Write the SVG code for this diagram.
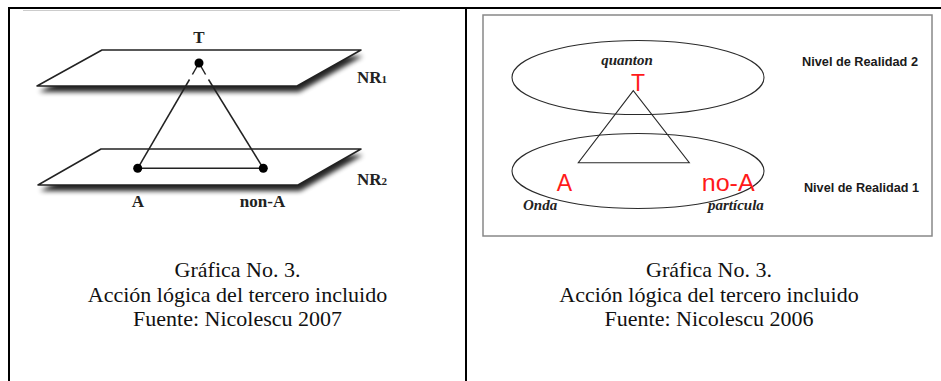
<svg xmlns="http://www.w3.org/2000/svg" width="941" height="381" viewBox="0 0 941 381">
<style>
.cap{font-family:"Liberation Serif","Times New Roman",serif;font-size:22px;fill:#111;text-anchor:middle}
.lbl{font-family:"Liberation Serif","Times New Roman",serif;font-weight:bold;font-size:17px;fill:#222}
.it{font-family:"Liberation Serif","Times New Roman",serif;font-weight:bold;font-style:italic;font-size:15px;fill:#222}
.red{font-family:"Liberation Sans",Arial,sans-serif;font-size:23px;fill:#ff1a1a}
.niv{font-family:"Liberation Sans",Arial,sans-serif;font-weight:bold;font-size:12.5px;fill:#1a1a1a}
.plane{fill:#fff;stroke:#222;stroke-width:1.5;stroke-linejoin:round}
.ln{stroke:#222;stroke-width:1.5;fill:none}
.thin{stroke:#2a2a2a;stroke-width:1.1;fill:none}
</style>
<defs>
<filter id="sh" x="-10%" y="-30%" width="120%" height="160%">
<feGaussianBlur stdDeviation="2.8"/>
</filter>
</defs>
<rect width="941" height="381" fill="#fff"/>
<g id="table">
<line x1="8" y1="8" x2="941" y2="8" stroke="#000" stroke-width="2"/>
<line x1="9" y1="7" x2="9" y2="381" stroke="#000" stroke-width="2"/>
<line x1="466" y1="7" x2="466" y2="381" stroke="#000" stroke-width="2"/>
<line x1="23" y1="10.5" x2="400" y2="10.5" stroke="#ccc" stroke-width="1"/>
</g>
<g id="plane-nr1">
<polygon points="102,50 361,50 297,86 37,86" transform="translate(2,6)" fill="#000" opacity="0.85" filter="url(#sh)"/>
<polygon class="plane" points="102,50 361,50 297,86 37,86"/>
</g>
<g id="plane-nr2">
<polygon points="101,149 361,149 298,185 38,185" transform="translate(2,6)" fill="#000" opacity="0.85" filter="url(#sh)"/>
<polygon class="plane" points="101,149 361,149 298,185 38,185"/>
</g>
<g id="connectors-left">
<line class="ln" x1="199" y1="63" x2="192.4" y2="74.5"/>
<line class="ln" x1="189.5" y1="79.5" x2="137.7" y2="168.3"/>
<line class="ln" x1="199" y1="63" x2="205.6" y2="74.5"/>
<line class="ln" x1="208.5" y1="79.5" x2="263.3" y2="168.3"/>
<line class="ln" x1="137.7" y1="168.3" x2="263.3" y2="168.3"/>
</g>
<g id="node-T-left">
<circle cx="199" cy="63" r="4.5" fill="#000"/>
<text class="lbl" x="199" y="43" text-anchor="middle">T</text>
</g>
<g id="node-A-left">
<circle cx="137.7" cy="168.3" r="4.5" fill="#000"/>
<text class="lbl" x="138" y="207" text-anchor="middle">A</text>
</g>
<g id="node-nonA-left">
<circle cx="263.3" cy="168.3" r="4.5" fill="#000"/>
<text class="lbl" x="262.5" y="207" text-anchor="middle">non-A</text>
</g>
<g id="label-NR1"><text class="lbl" x="357" y="82.5">NR<tspan font-size="11">1</tspan></text></g>
<g id="label-NR2"><text class="lbl" x="357" y="185">NR<tspan font-size="11">2</tspan></text></g>
<g id="caption-left">
<text class="cap" x="237.5" y="277">Gráfica No. 3.</text>
<text class="cap" x="237.5" y="301.5">Acción lógica del tercero incluido</text>
<text class="cap" x="237.5" y="326">Fuente: Nicolescu 2007</text>
</g>
<g id="frame-right">
<rect x="483" y="15" width="449" height="221" fill="none" stroke="#888" stroke-width="1.5"/>
</g>
<g id="level-2">
<ellipse class="thin" cx="638" cy="77.5" rx="126" ry="37"/>
<text class="niv" x="802" y="66" textLength="116" lengthAdjust="spacingAndGlyphs">Nivel de Realidad 2</text>
</g>
<g id="level-1">
<ellipse class="thin" cx="638" cy="171" rx="126" ry="37.5"/>
<text class="niv" x="804" y="191.5" textLength="115" lengthAdjust="spacingAndGlyphs">Nivel de Realidad 1</text>
</g>
<g id="connectors-right">
<polygon class="thin" points="633.3,90.7 578.3,162.7 689.3,162.7"/>
</g>
<g id="node-T-right">
<text class="it" x="627" y="65" text-anchor="middle">quanton</text>
<text class="red" x="638" y="90.7" text-anchor="middle">T</text>
</g>
<g id="node-A-right">
<text class="red" x="564.5" y="190.7" text-anchor="middle">A</text>
<text class="it" x="523" y="210">Onda</text>
</g>
<g id="node-noA-right">
<text class="red" x="701.7" y="190.7" textLength="53" lengthAdjust="spacingAndGlyphs">no-A</text>
<text class="it" x="708" y="210">partícula</text>
</g>
<g id="caption-right">
<text class="cap" x="709" y="277">Gráfica No. 3.</text>
<text class="cap" x="709" y="301.5">Acción lógica del tercero incluido</text>
<text class="cap" x="709" y="326">Fuente: Nicolescu 2006</text>
</g>
</svg>
